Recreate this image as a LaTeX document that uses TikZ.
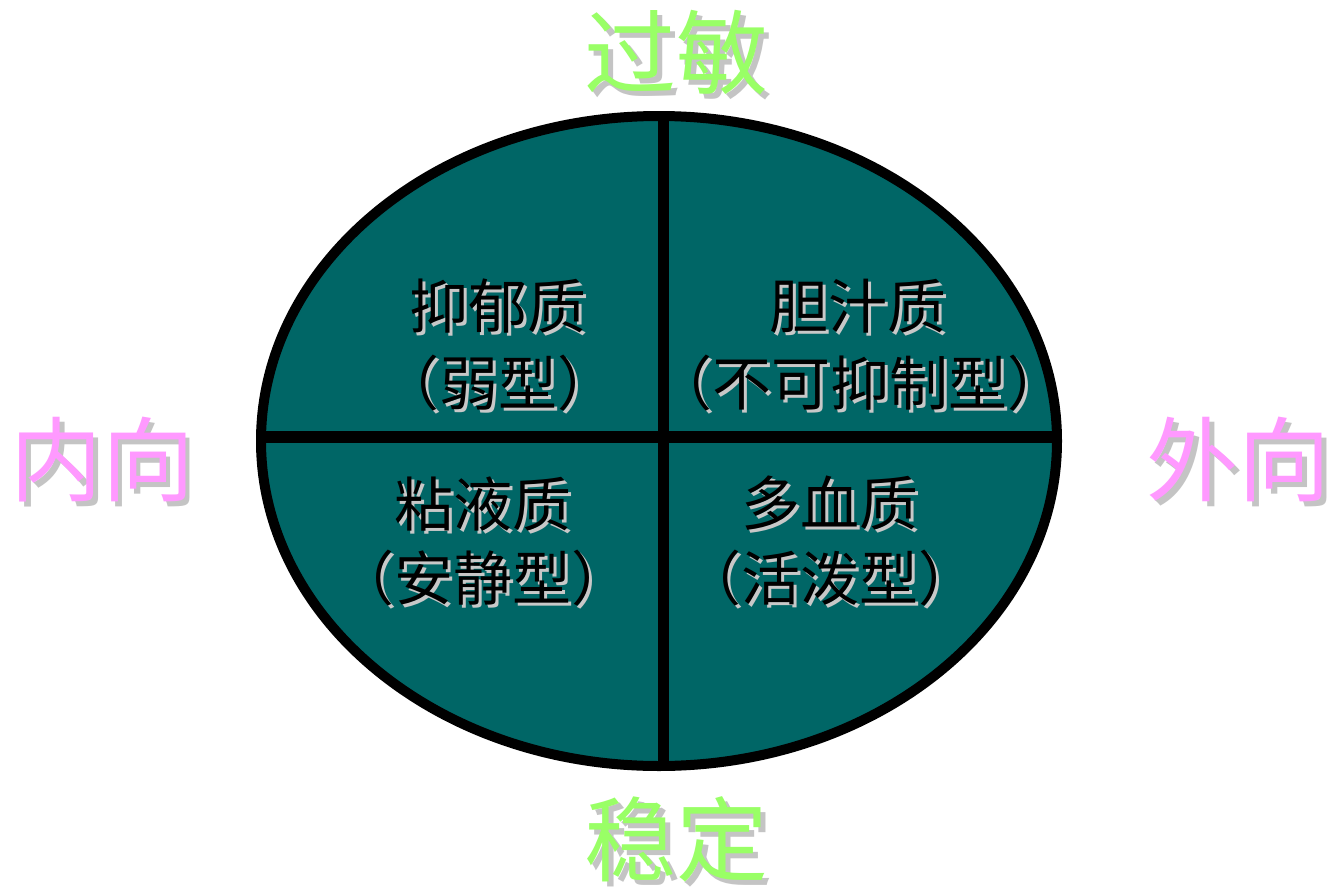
\documentclass[tikz,border=0pt]{standalone}
\usepackage{fontspec}
\newfontfamily\cjk{Noto Sans CJK SC}
\definecolor{tealfill}{HTML}{006666}
\definecolor{lgreen}{HTML}{99FF66}
\definecolor{lpink}{HTML}{FF99FF}
\definecolor{shadowgray}{HTML}{C8C8C8}
\definecolor{softshadow}{HTML}{C4C4C4}
% shadowed text: {shadow colour}{offset}{text colour}{text}
\newcommand{\shadowtext}[4]{%
  \makebox[0pt][l]{\hspace*{#2}\raisebox{-#2}{\textcolor{#1}{#4}}}\textcolor{#3}{#4}}
\tikzset{
  quadtext/.style={font=\cjk\fontsize{59}{64}\selectfont, inner sep=0pt, align=center},
  axislabel/.style={font=\cjk\fontsize{92}{96}\selectfont, inner sep=0pt},
}
\begin{document}
\begin{tikzpicture}[x=1pt,y=-1pt]
\useasboundingbox (0,0) rectangle (1339,889);
\fill[white] (0,0) rectangle (1339,889);
% ellipse
\coordinate (c) at (659,441);
\filldraw[fill=tealfill, draw=black, line width=10pt] (c) ellipse [x radius=398, y radius=325];
\coordinate (top) at (663,116);
\coordinate (bot) at (663,766);
\coordinate (lft) at (261,437);
\coordinate (rgt) at (1057,437);
\draw[line width=11pt] (top) -- (bot);
\draw[line width=12pt] (lft) -- (rgt);
% quadrant texts
\foreach \n/\x/\y/\t in {a1/498/308/抑郁质, a2/498/385/（弱型）, b1/858/308/胆汁质, b2/860/385/（不可抑制型）, c1/483/505/粘液质, c2/483/580/（安静型）, d1/830/505/多血质, d2/830/580/（活泼型）}{
  \node[quadtext] (\n) at (\x,\y) {\shadowtext{shadowgray}{3pt}{black}{\t}};
}
% axis labels
\foreach \n/\x/\y/\t/\col in {up/676/55/过敏/lgreen, down/676/842/稳定/lgreen, left/102/462/内向/lpink, right/1238/462/外向/lpink}{
  \node[axislabel] (\n) at (\x,\y) {\shadowtext{softshadow}{5pt}{\col}{\t}};
}
\end{tikzpicture}
\end{document}
